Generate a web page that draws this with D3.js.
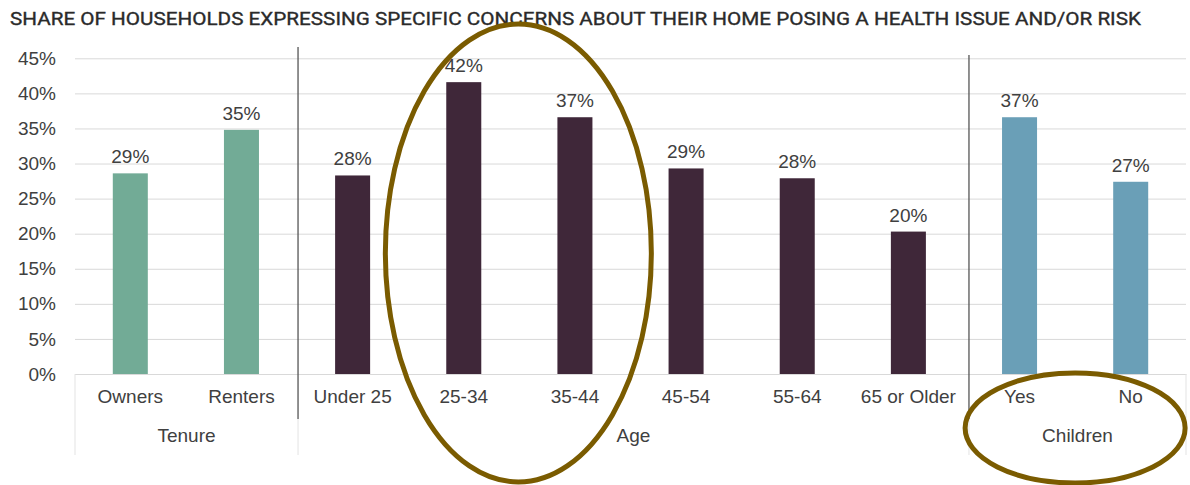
<!DOCTYPE html>
<html><head><meta charset="utf-8">
<script src="https://cdn.jsdelivr.net/npm/d3@7"></script>
<style>body{margin:0;background:#fff}svg{display:block}</style>
</head><body>
<svg id="c" width="1190" height="485"></svg>
<script>
const title = "SHARE OF HOUSEHOLDS EXPRESSING SPECIFIC CONCERNS ABOUT THEIR HOME POSING A HEALTH ISSUE AND/OR RISK";
const categories = ["Owners","Renters","Under 25","25-34","35-44","45-54","55-64","65 or Older","Yes","No"];
const groups = ["Tenure","Tenure","Age","Age","Age","Age","Age","Age","Children","Children"];
const values = [0.286, 0.348, 0.283, 0.416, 0.366, 0.293, 0.279, 0.203, 0.366, 0.274];
const groupNames = ["Tenure","Age","Children"];
const groupColors = ["#72ab96","#3f2739","#6a9fb7"];
const yTicks = [0,0.05,0.10,0.15,0.20,0.25,0.30,0.35,0.40,0.45];

const svg = d3.select("#c");
const x0 = 75, x1 = 1186, yTop = 58.3, yBot = 374;
const x = d3.scaleBand().domain(categories).range([x0, x1]).paddingInner(0.685).paddingOuter(0.34);
const y = d3.scaleLinear().domain([0,0.45]).range([yBot, yTop]);
const color = d3.scaleOrdinal().domain(groupNames).range(groupColors);
const font = "'Liberation Sans', Arial, sans-serif";
const fs = 19;

svg.append("text").attr("x", 10).attr("y", 25)
  .attr("font-family", "Roboto, 'DejaVu Sans Condensed', sans-serif").attr("font-weight", 400)
  .attr("font-size", 18.5).attr("fill", "#2a2a2a").attr("stroke", "#2a2a2a").attr("stroke-width", 0.35)
  .attr("textLength", 1131).attr("lengthAdjust", "spacingAndGlyphs").text(title);

// gridlines
const yAxis = d3.axisLeft(y).tickValues(yTicks).tickFormat(d3.format(".0%")).tickSize(-(x1 - x0)).tickPadding(19);
const ga = svg.append("g").attr("transform", `translate(${x0},0)`).call(yAxis);
ga.select(".domain").remove();
ga.selectAll(".tick line").attr("stroke", "#d9d9d9").attr("stroke-width", 1);
ga.selectAll(".tick text").attr("font-family", font).attr("font-size", fs).attr("fill", "#404040");

// bars
const data = categories.map((c,i) => ({c, g: groups[i], v: values[i]}));
svg.append("g").selectAll("rect").data(data).join("rect")
  .attr("x", d => x(d.c)).attr("width", x.bandwidth())
  .attr("y", d => y(d.v)).attr("height", d => y(0) - y(d.v))
  .attr("fill", d => color(d.g));

// category axis
const xAxis = d3.axisBottom(x).tickSize(0).tickPadding(16);
const gx = svg.append("g").attr("transform", `translate(0,${yBot})`).call(xAxis);
gx.select(".domain").attr("stroke", "#d9d9d9");
gx.selectAll(".tick text").attr("font-family", font).attr("font-size", fs).attr("fill", "#404040");

// group boundaries and labels
const step = x.step();
const bounds = [];
groupNames.forEach(g => {
  const idx = categories.map((c,i)=>i).filter(i => groups[i] === g);
  bounds.push([idx[0], idx[idx.length-1], g]);
});
const edge = i => i === 0 ? x0 : (i >= categories.length ? x1 : x(categories[i]) - (step - x.bandwidth())/2);
const sepX = i => edge(i) + (i === 8 ? 5 : 1);
[0, categories.length].forEach(i => {
  svg.append("line").attr("x1", edge(i)).attr("x2", edge(i)).attr("y1", yBot).attr("y2", 455)
    .attr("stroke", "#e3e3e3").attr("stroke-width", 1);
});
[[2,47],[8,55]].forEach(([i,top]) => {
  svg.append("line").attr("x1", sepX(i)).attr("x2", sepX(i)).attr("y1", top).attr("y2", 419)
    .attr("stroke", "#555").attr("stroke-width", 1.3);
  svg.append("line").attr("x1", sepX(i)).attr("x2", sepX(i)).attr("y1", 419).attr("y2", 455)
    .attr("stroke", "#e3e3e3").attr("stroke-width", 1);
});
bounds.forEach(([a,b,g]) => {
  const left = a === 0 ? x0 : sepX(a);
  const right = b + 1 >= categories.length ? x1 : sepX(b + 1);
  svg.append("text").attr("x", (left + right)/2).attr("y", 442).attr("text-anchor","middle")
    .attr("font-family", font).attr("font-size", fs).attr("fill", "#404040").text(g);
});

// annotation ellipses
const ann = svg.append("g").attr("fill","none").attr("stroke","#7a5b00").attr("stroke-width",5);
const mid = (a,b) => (x(a) + x(b) + x.bandwidth())/2;
ann.append("ellipse").attr("cx", mid("25-34","35-44") - 1).attr("cy", 253).attr("rx", 133).attr("ry", 229);
ann.append("ellipse").attr("cx", mid("Yes","No")).attr("cy", 428).attr("rx", 110).attr("ry", 55);

// value labels on top
svg.append("g").selectAll("text").data(data).join("text")
  .attr("x", d => x(d.c) + x.bandwidth()/2).attr("y", d => y(d.v) - 10)
  .attr("text-anchor", "middle").attr("font-family", font).attr("font-size", fs).attr("fill", "#404040")
  .text(d => d3.format(".0%")(d.v));
</script>
</body></html>
